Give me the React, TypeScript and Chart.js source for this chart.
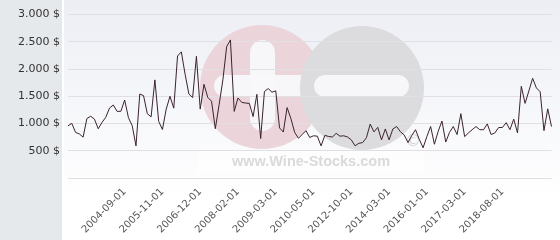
import { useEffect, useRef } from 'react';
import { Chart, registerables } from 'chart.js';

Chart.register(...registerables);

const tickDates = [
  '2004-09-01', '2005-11-01', '2006-12-01', '2008-02-01', '2009-03-01', '2010-05-01',
  '2012-10-01', '2014-03-01', '2016-01-01', '2017-03-01', '2018-08-01',
];
const tickIndices = [15, 25, 35, 45, 55, 65, 75, 85, 95, 105, 115];

const prices = [
  957, 1003, 838, 809, 750, 1092, 1134, 1081, 904, 1020,
  1115, 1285, 1340, 1223, 1225, 1432, 1107, 960, 590, 1542,
  1512, 1180, 1122, 1801, 1040, 890, 1265, 1500, 1282, 2240,
  2316, 1905, 1542, 1477, 2234, 1265, 1720, 1480, 1410, 905,
  1345, 1801, 2410, 2535, 1223, 1468, 1388, 1376, 1370, 1128,
  1536, 725, 1587, 1642, 1575, 1600, 920, 845, 1293, 1093,
  838, 730, 798, 869, 745, 775, 768, 590, 783, 762,
  753, 820, 768, 775, 753, 700, 590, 638, 650, 740,
  990, 847, 930, 700, 900, 700, 900, 945, 850, 790,
  650, 780, 887, 709, 555, 760, 945, 620, 857, 1046,
  660, 838, 945, 798, 1181, 760, 827, 887, 945, 887,
  887, 993, 798, 827, 927, 927, 1016, 887, 1081, 827,
  1684, 1370, 1596, 1831, 1654, 1583, 869, 1270, 945,
];

const yMax = 3000;
const yStep = 500;
const FONT = 'DejaVu Sans';

function formatPrice(v: number): string {
  if (v === 0) return '';
  if (v >= 1000) {
    return `${Math.floor(v / 1000)}.${String(v % 1000).padStart(3, '0')} $`;
  }
  return `${v} $`;
}

function pill(ctx: CanvasRenderingContext2D, x: number, y: number, w: number, h: number) {
  const r = Math.min(w, h) / 2;
  ctx.beginPath();
  ctx.roundRect(x, y, w, h, r);
  ctx.fill();
}

const backgroundPlugin = {
  id: 'wsBackground',
  beforeDraw(chart: any) {
    const ctx: CanvasRenderingContext2D = chart.ctx;
    const W = chart.width;
    const H = chart.height;
    ctx.save();
    ctx.fillStyle = '#ffffff';
    ctx.fillRect(0, 0, W, H);
    const g = ctx.createLinearGradient(0, 0, 0, 200);
    g.addColorStop(0, '#eceef4');
    g.addColorStop(1, '#ffffff');
    ctx.fillStyle = g;
    ctx.fillRect(64, 0, W - 64, H);
    ctx.fillStyle = '#e6e9ec';
    ctx.fillRect(0, 0, 62, H);

    // watermark
    ctx.fillStyle = '#ebd4da';
    ctx.beginPath();
    ctx.arc(262, 87, 62, 0, Math.PI * 2);
    ctx.fill();
    ctx.fillStyle = 'rgba(248,248,251,0.95)';
    pill(ctx, 250, 40, 25, 91);
    pill(ctx, 214, 75, 100, 22);
    ctx.fillStyle = '#dcdcde';
    ctx.beginPath();
    ctx.arc(362, 88, 62, 0, Math.PI * 2);
    ctx.fill();
    ctx.fillStyle = 'rgba(248,248,251,0.95)';
    pill(ctx, 314, 75, 95, 22);

    ctx.fillStyle = 'rgba(255,255,255,0.55)';
    ctx.fillRect(198, 151, 226, 22);
    ctx.fillStyle = '#dadada';
    ctx.font = `bold 14.5px "Liberation Sans"`;
    ctx.textAlign = 'center';
    ctx.textBaseline = 'alphabetic';
    ctx.fillText('www.Wine-Stocks.com', 311, 166);
    ctx.fillStyle = '#d2d2d2';
    ctx.font = `16px "DejaVu Sans"`;
    ctx.fillText('\u00A9', 413, 146);
    ctx.restore();
  },
};

export default function App() {
  const ref = useRef<HTMLCanvasElement>(null);

  useEffect(() => {
    document.body.style.margin = '0';
    const categories = prices.map((_, i) => {
      const k = tickIndices.indexOf(i);
      return k >= 0 ? tickDates[k] : '';
    });
    const chart = new Chart(ref.current as HTMLCanvasElement, {
      type: 'line',
      data: {
        labels: categories,
        datasets: [
          {
            data: prices,
            borderColor: '#3b2230',
            borderWidth: 1,
            pointRadius: 0,
            tension: 0,
            fill: false,
          },
        ],
      },
      options: {
        animation: false,
        responsive: false,
        layout: { padding: { top: 11, right: 6, left: 0, bottom: 0 } },
        plugins: { legend: { display: false }, tooltip: { enabled: false } },
        scales: {
          x: {
            grid: { display: false },
            border: { display: false },
            ticks: {
              autoSkip: false,
              minRotation: 45,
              maxRotation: 45,
              padding: 0,
              color: '#555555',
              font: { family: FONT, size: 10 },
            },
            afterFit: (s: any) => {
              s.height = 62;
            },
          },
          y: {
            min: 0,
            max: yMax,
            ticks: {
              stepSize: yStep,
              padding: 8,
              color: '#333333',
              font: { family: FONT, size: 11 },
              callback: (v: any) => formatPrice(Number(v)),
            },
            grid: { color: '#dfdfe4', drawTicks: false },
            border: { display: false },
            afterFit: (s: any) => {
              s.width = 68;
            },
          },
        },
      },
      plugins: [backgroundPlugin],
    });
    return () => chart.destroy();
  }, []);

  return <canvas ref={ref} width={560} height={240} style={{ display: 'block' }} />;
}
